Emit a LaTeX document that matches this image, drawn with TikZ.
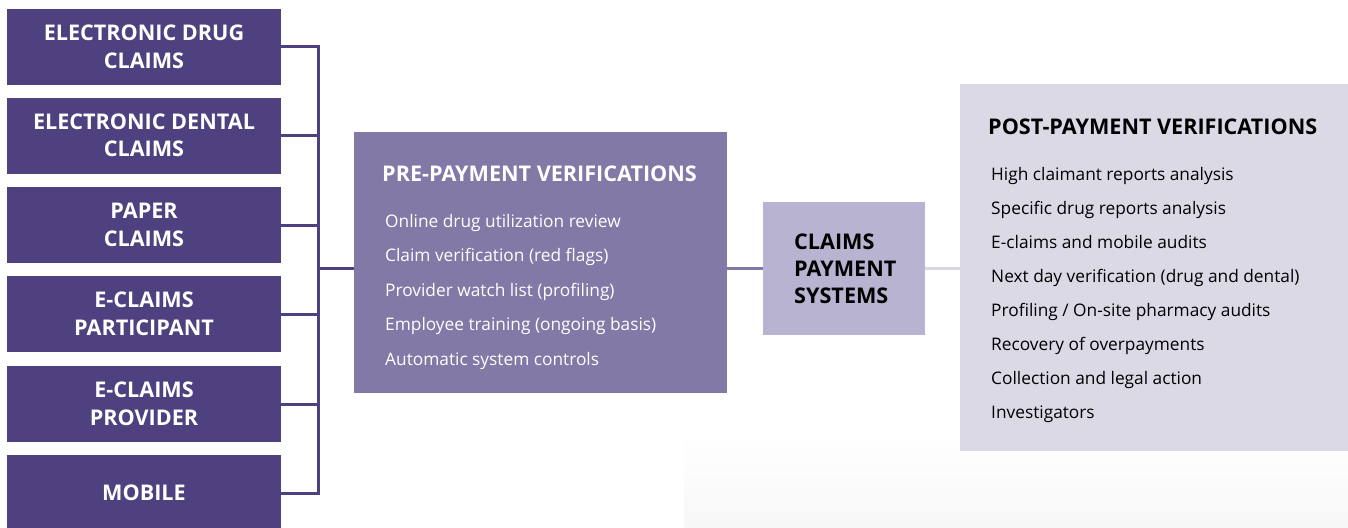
\documentclass[tikz,border=0pt]{standalone}
\usepackage{fontspec}
\setmainfont{Open Sans}
\usetikzlibrary{positioning}

\definecolor{srcPurple}{HTML}{4F4180}
\definecolor{prePurple}{HTML}{8279A7}
\definecolor{payLilac}{HTML}{B8B3D0}
\definecolor{postLilac}{HTML}{DCD9E7}
\definecolor{postLink}{HTML}{D9D6E6}

\tikzset{
  source/.style={fill=srcPurple, text=white, minimum width=274pt, minimum height=76pt,
    inner sep=0pt, align=center, font=\bfseries\fontsize{21.6}{27.5}\selectfont},
  panel/.style={anchor=north west, inner sep=0pt},
  heading/.style={anchor=base west, inner sep=0pt, font=\bfseries\fontsize{21.6}{24}\selectfont},
  item/.style={anchor=base west, inner sep=0pt, font=\fontsize{17.3}{20}\selectfont},
  link/.style={draw=srcPurple, line width=3pt},
}

\begin{document}
\begin{tikzpicture}[x=1pt,y=-1pt]
  \useasboundingbox (0,0) rectangle (1348,527);
  % faint floor under the right part
  \shade[top color=white, bottom color=black!3] (684,432) rectangle (1348,527);

  % claim sources
  \node[source] (drug) at (144,47) {ELECTRONIC DRUG\\CLAIMS};
  \node[source] (dental) at (144,135.5) {ELECTRONIC DENTAL\\CLAIMS};
  \node[source] (paper) at (144,225) {PAPER\\CLAIMS};
  \node[source] (participant) at (144,314) {E-CLAIMS\\PARTICIPANT};
  \node[source] (provider) at (144,404) {E-CLAIMS\\PROVIDER};
  \node[source] (mobile) at (144,493) {MOBILE};

  \coordinate (bus) at (318,268);
  \draw[link] (drug) -| (bus);
  \draw[link] (dental) -| (bus);
  \draw[link] (paper) -| (bus);
  \draw[link] (participant) -| (bus);
  \draw[link] (provider) -| (bus);
  \draw[link] (mobile) -| (bus);

  % pre-payment panel
  \node[panel, fill=prePurple, minimum width=373pt, minimum height=261pt] (pre) at (354,132) {};
  \node[heading, text=white] (preTitle) at (382,181.5) {PRE-PAYMENT VERIFICATIONS};
  \foreach \txt [count=\i] in {Online drug utilization review, Claim verification (red flags),
      Provider watch list (profiling), Employee training (ongoing basis), Automatic system controls}
    \node[item, text=white] (preItem\i) at (385,{227+34.5*(\i-1)}) {\txt};

  \draw[link] (bus) -- (bus -| pre.west);

  % payment systems
  \node[panel, fill=payLilac, minimum width=162pt, minimum height=133pt, inner xsep=31pt,
    text width=100pt, align=left, font=\bfseries\fontsize{21.6}{27}\selectfont] (pay) at (763,202)
    {CLAIMS\\PAYMENT\\SYSTEMS};
  \draw[link, draw=prePurple] (pre.east |- pay.west) -- (pay.west);

  % post-payment panel
  \node[panel, fill=postLilac, minimum width=388pt, minimum height=367pt] (post) at (960,84) {};
  \node[heading] (postTitle) at (988,134) {POST-PAYMENT VERIFICATIONS};
  \foreach \txt [count=\i] in {High claimant reports analysis, Specific drug reports analysis,
      E-claims and mobile audits, Next day verification (drug and dental),
      Profiling / On-site pharmacy audits, Recovery of overpayments,
      Collection and legal action, Investigators}
    \node[item] (postItem\i) at (991,{180+34*(\i-1)}) {\txt};

  \draw[link, draw=postLink] (pay.east) -- (pay.east -| post.west);
\end{tikzpicture}
\end{document}
